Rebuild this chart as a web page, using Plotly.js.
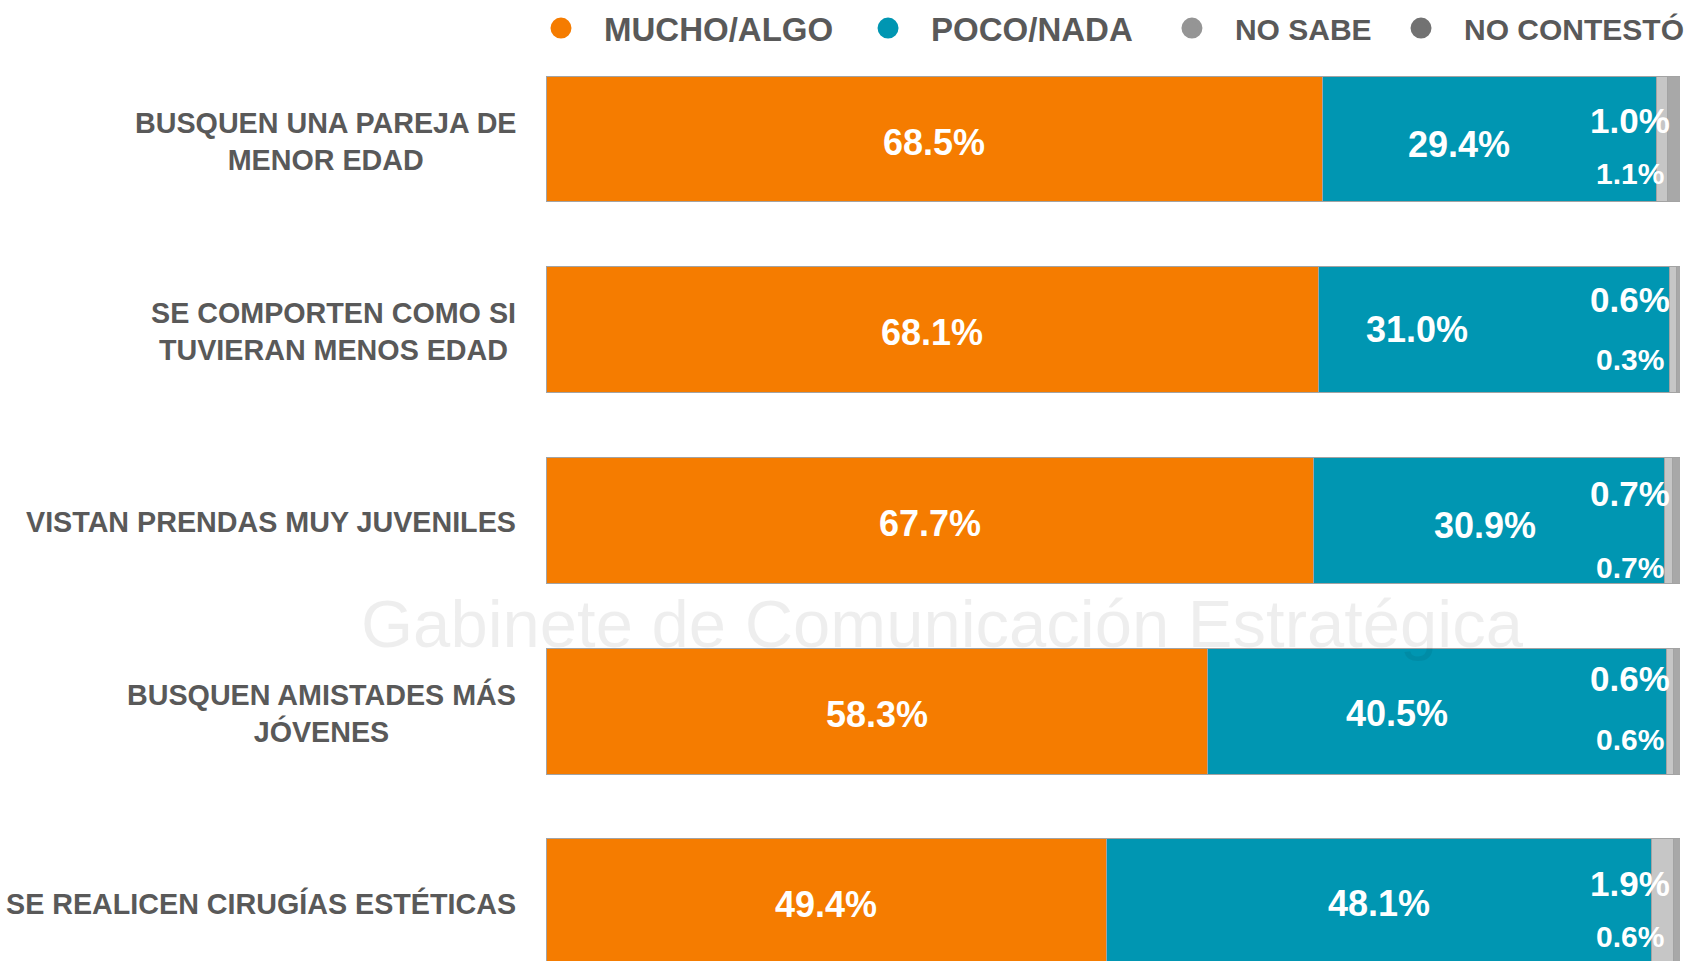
<!DOCTYPE html>
<html>
<head>
<meta charset="utf-8">
<script src="https://cdn.plot.ly/plotly-3.0.1.min.js"></script>
<style>html,body{margin:0;padding:0;background:#fff;}#chart{width:1699px;height:961px;}</style>
</head>
<body>
<div id="chart"></div>
<script>
// ---- data ----
const categories = [
  'BUSQUEN UNA PAREJA DE MENOR EDAD',
  'SE COMPORTEN COMO SI TUVIERAN MENOS EDAD',
  'VISTAN PRENDAS MUY JUVENILES',
  'BUSQUEN AMISTADES MÁS JÓVENES',
  'SE REALICEN CIRUGÍAS ESTÉTICAS'
];
const tickLabels = [
  'BUSQUEN UNA PAREJA DE<br>MENOR EDAD',
  'SE COMPORTEN COMO SI<br>TUVIERAN MENOS EDAD',
  'VISTAN PRENDAS MUY JUVENILES',
  'BUSQUEN AMISTADES MÁS<br>JÓVENES',
  'SE REALICEN CIRUGÍAS ESTÉTICAS'
];
const seriesNames = ['MUCHO/ALGO', 'POCO/NADA', 'NO SABE', 'NO CONTESTÓ'];
const mucho      = [68.5, 68.1, 67.7, 58.3, 49.4];
const poco       = [29.4, 31.0, 30.9, 40.5, 48.1];
const noSabe     = [1.0, 0.6, 0.7, 0.6, 1.9];
const noContesto = [1.1, 0.3, 0.7, 0.6, 0.6];

// ---- style ----
const FONT = '"Liberation Sans", Arial, sans-serif';
const barColors = ['#F57C00', '#0096B2', '#C6C6C6', '#A8A8A8'];
const legendColors = ['#F57C00', '#0096B2', '#959595', '#727272'];
const legendIds = ['legend', 'legend2', 'legend3', 'legend4'];
const legendX = [-0.0247, 0.2637, 0.5317, 0.7337];
const legendFontSize = [33, 33, 30, 30];
// label nudges (pixels)
const orangePos = {dy: -3};
const bluePos = {dx: [-30, -77, -4, -40, 0], dy: [-5, 0, -5, -2, -2]};
const sabePos = {dx: -8, dy: [19, 30, 27, 33, 18]};
const contPos = {dx: -14, dy: [-34, -30, -47, -28, -35]};

const series = [mucho, poco, noSabe, noContesto];
const fmt = v => v.toFixed(1) + '%';
const totals = categories.map((c, i) => mucho[i] + poco[i] + noSabe[i] + noContesto[i]);

const traces = series.map((vals, i) => ({
  type: 'bar', orientation: 'h', name: seriesNames[i],
  y: categories, x: vals, width: 0.66,
  marker: {color: barColors[i], line: {color: '#A3A3A3', width: 1}},
  textposition: 'none',
  showlegend: false, hoverinfo: 'skip'
}));

seriesNames.forEach((n, i) => traces.push({
  type: 'scatter', mode: 'markers', x: [null], y: [null], name: n,
  legend: legendIds[i], showlegend: true, hoverinfo: 'skip',
  marker: {color: legendColors[i], size: 16, line: {color: legendColors[i], width: 5}}
}));

const annotations = [];
annotations.push({
  xref: 'paper', x: 0.35, yref: 'y', y: 2.538, showarrow: false,
  text: 'Gabinete de Comunicación Estratégica',
  font: {family: FONT, size: 67, color: 'rgba(0,0,0,0.065)'}
});
categories.forEach((c, i) => {
  annotations.push({
    xref: 'paper', x: 0, xanchor: 'right', xshift: -28,
    yref: 'y', y: c, yanchor: 'middle', yshift: -2, showarrow: false, align: 'center',
    text: tickLabels[i],
    font: {family: FONT, size: 28.7, color: '#595959', weight: 'bold'}
  });
  annotations.push({
    xref: 'x', x: mucho[i] / 2, yref: 'y', y: c,
    yshift: orangePos.dy, showarrow: false,
    text: fmt(mucho[i]),
    font: {family: FONT, size: 36, color: '#ffffff', weight: 'bold'}
  });
  annotations.push({
    xref: 'x', x: mucho[i] + poco[i] / 2, yref: 'y', y: c,
    xshift: bluePos.dx[i], yshift: bluePos.dy[i], showarrow: false,
    text: fmt(poco[i]),
    font: {family: FONT, size: 36, color: '#ffffff', weight: 'bold'}
  });
  annotations.push({
    xref: 'x', x: totals[i], xanchor: 'right', yref: 'y', y: c,
    xshift: sabePos.dx, yshift: sabePos.dy[i], showarrow: false,
    text: fmt(noSabe[i]),
    font: {family: FONT, size: 35, color: '#ffffff', weight: 'bold'}
  });
  annotations.push({
    xref: 'x', x: totals[i], xanchor: 'right', yref: 'y', y: c,
    xshift: contPos.dx, yshift: contPos.dy[i], showarrow: false,
    text: fmt(noContesto[i]),
    font: {family: FONT, size: 30, color: '#ffffff', weight: 'bold'}
  });
});

const legendBase = {
  orientation: 'h', yref: 'paper', y: 1.047, yanchor: 'middle', xanchor: 'left',
  itemwidth: 76, bgcolor: 'rgba(0,0,0,0)', borderwidth: 0,
  itemclick: false, itemdoubleclick: false
};

const layout = {
  width: 1699, height: 961,
  margin: {l: 546, r: 19, t: 70, b: 0, pad: 0, autoexpand: false},
  paper_bgcolor: '#ffffff', plot_bgcolor: 'rgba(0,0,0,0)',
  barmode: 'stack', bargap: 0.34,
  xaxis: {range: [0, 100], visible: false, fixedrange: true},
  yaxis: {type: 'category', categoryorder: 'array', categoryarray: categories,
          range: [4.31, -0.362], visible: false, fixedrange: true},
  annotations: annotations,
  showlegend: true
};
legendIds.forEach((id, i) => {
  layout[id] = Object.assign({}, legendBase, {
    x: legendX[i],
    font: {family: FONT, size: legendFontSize[i], color: '#595959', weight: 'bold'}
  });
});

Plotly.newPlot('chart', traces, layout, {displayModeBar: false, staticPlot: true});
</script>
</body>
</html>
